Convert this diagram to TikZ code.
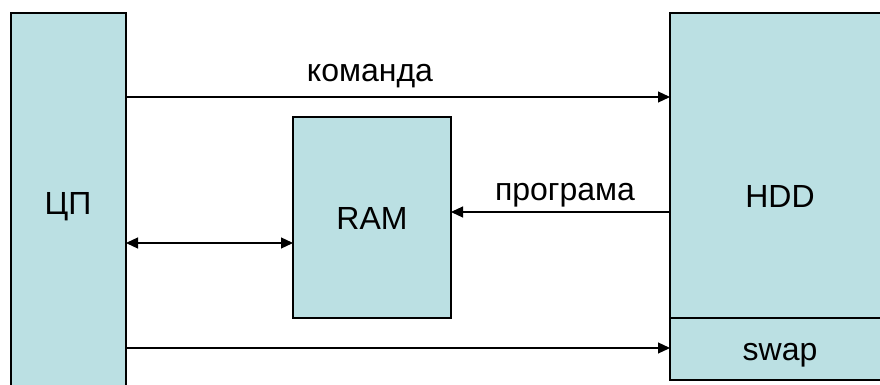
\documentclass[tikz,border=0pt]{standalone}
\usepackage{fontspec}
\setmainfont{Liberation Sans}
\usetikzlibrary{positioning,arrows.meta}

\definecolor{boxfill}{RGB}{187,224,227}

\begin{document}
\begin{tikzpicture}[
    x=1pt, y=-1pt,
    >={Triangle[length=12pt,width=11pt]},
    block/.style={rectangle,draw,fill=boxfill,inner sep=0pt,outer sep=0pt,line width=1.6pt},
    thinblock/.style={block,line width=1.1pt},
    arrow/.style={->,line width=1.2pt},
    txt/.style={anchor=base,inner sep=0pt,font=\fontsize{32}{37}\selectfont}
]
\useasboundingbox (0,0) rectangle (880,385);
\clip (0,0) rectangle (880,385);

% blocks
\node[block,minimum width=115pt,minimum height=407pt] (cpu) at (68.5,216.5) {};
\node[thinblock,minimum width=158pt,minimum height=201pt] (ram) at (372,217.5) {};
\node[block,minimum width=230pt,minimum height=305pt] (hdd) at (785,165.5) {};
\node[thinblock,minimum width=230pt,minimum height=62pt,below=0pt of hdd] (swap) {};

% texts
\node[txt] (cpuname) at (68,214) {ЦП};
\node[txt] (ramname) at (372,229) {RAM};
\node[txt] (hddname) at (780,207) {HDD};
\node[txt] (swapname) at (780,360) {swap};

% arrows
\draw[arrow] (cpu.east |- 0,97) -- (hdd.west |- 0,97);
\draw[arrow] (hdd.west |- 0,212) -- (ram.east |- 0,212);
\draw[arrow,<->] (cpu.east |- 0,243) -- (ram.west |- 0,243);
\draw[arrow] (cpu.east |- 0,348) -- (swap.west |- 0,348);

% labels
\node[txt] (cmd) at (370,82) {команда};
\node[txt] (prog) at (565,200) {програма};

\end{tikzpicture}
\end{document}
